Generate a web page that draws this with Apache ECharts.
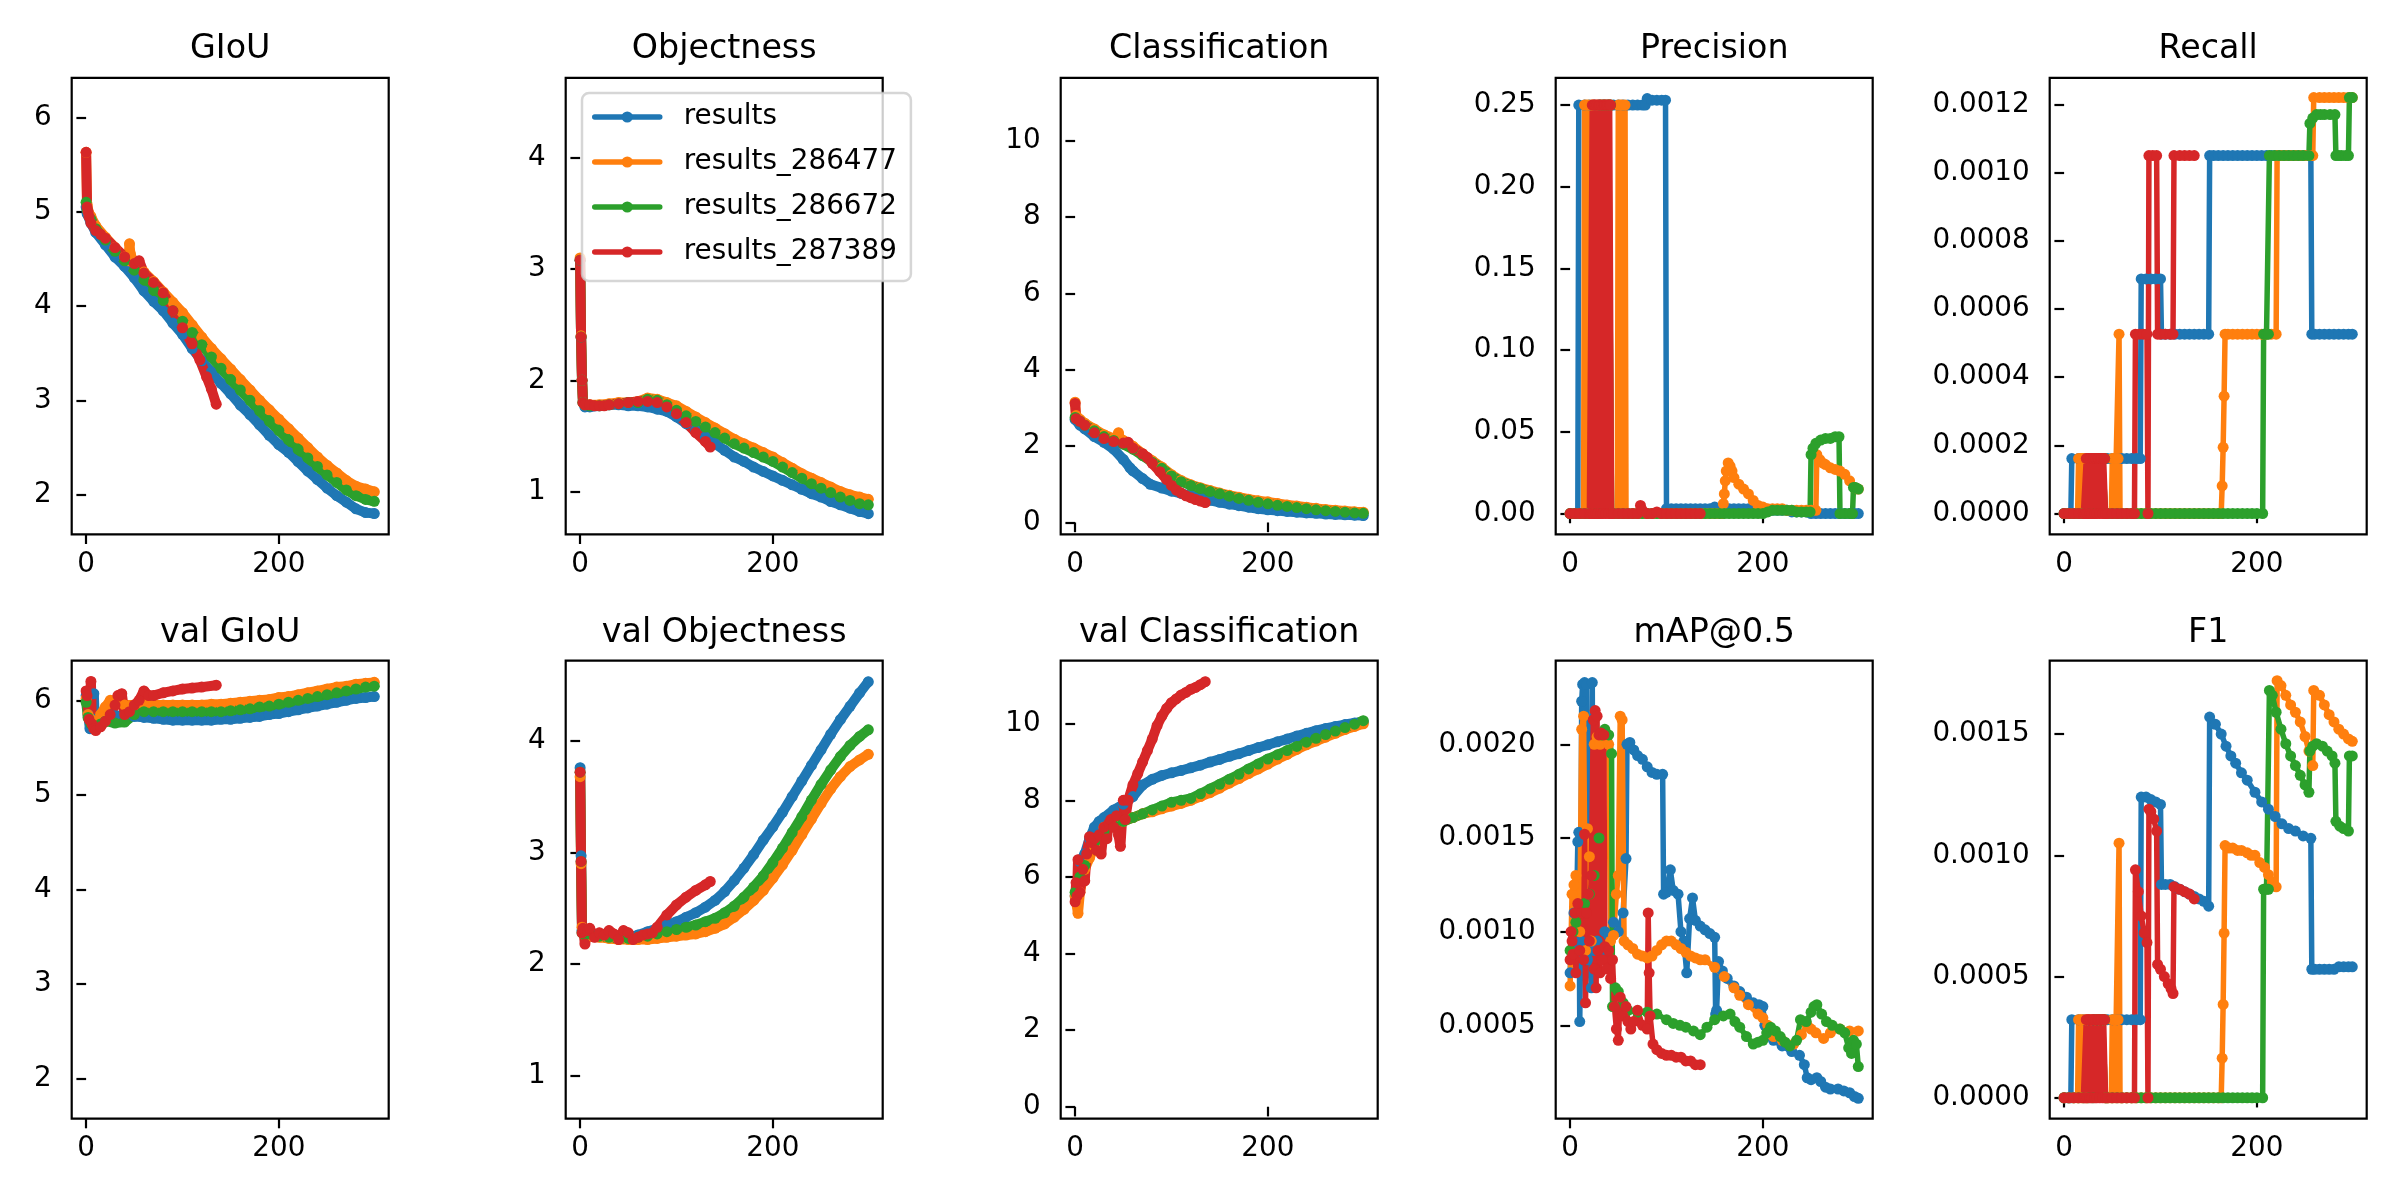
<!DOCTYPE html>
<html>
<head>
<meta charset="utf-8">
<script src="https://cdn.jsdelivr.net/npm/echarts@6/dist/echarts.min.js"></script>
<style>
  html, body { margin: 0; padding: 0; background: #fff; }
  #chart { width: 2400px; height: 1200px; }
</style>
</head>
<body>
<div id="chart"></div>
<script>
// runs, colours and panel titles
const runNames = ['results', 'results_286477', 'results_286672', 'results_287389'];
const runColors = ['#1f77b4', '#ff7f0e', '#2ca02c', '#d62728'];
const panelTitles = ['GIoU', 'Objectness', 'Classification', 'Precision', 'Recall',
  'val GIoU', 'val Objectness', 'val Classification', 'mAP@0.5', 'F1'];

// tick labels
const xTicks = [0, 200];
const giouTicks = [2, 3, 4, 5, 6];
const objTicks = [1, 2, 3, 4];
const clsTicks = [0, 2, 4, 6, 8, 10];
const precTicks = [0, 0.05, 0.10, 0.15, 0.20, 0.25];
const recTicks = [0, 0.0002, 0.0004, 0.0006, 0.0008, 0.0010, 0.0012];
const mapTicks = [0.0005, 0.0010, 0.0015, 0.0020];
const f1Ticks = [0, 0.0005, 0.0010, 0.0015];

// ---- GIoU [epoch, value]
const giou_results = [[0,5.05],[1,4.98],[5,4.88],[10,4.78],[20,4.65],[30,4.52],[40,4.42],[50,4.30],[60,4.16],[70,4.05],[80,3.95],[90,3.82],[100,3.70],[110,3.55],[120,3.42],[130,3.30],[140,3.18],[150,3.07],[160,2.95],[170,2.85],[180,2.74],[190,2.63],[200,2.53],[210,2.45],[220,2.35],[230,2.25],[240,2.16],[250,2.07],[260,1.99],[270,1.92],[280,1.85],[290,1.81],[299,1.80]];
const giou_286477 = [[0,5.63],[1,5.08],[3,4.98],[5,4.95],[10,4.85],[20,4.73],[30,4.62],[40,4.52],[44,4.48],[45,4.66],[46,4.55],[50,4.45],[60,4.36],[70,4.26],[80,4.15],[90,4.04],[100,3.93],[110,3.80],[120,3.67],[130,3.55],[140,3.44],[150,3.33],[160,3.22],[170,3.11],[180,3.00],[190,2.90],[200,2.80],[210,2.70],[220,2.60],[230,2.50],[240,2.40],[250,2.31],[260,2.23],[270,2.15],[280,2.09],[290,2.06],[299,2.03]];
const giou_286672 = [[0,5.10],[1,5.02],[5,4.92],[10,4.82],[20,4.70],[30,4.58],[40,4.48],[50,4.38],[60,4.28],[70,4.17],[80,4.06],[90,3.95],[100,3.84],[110,3.72],[120,3.59],[130,3.46],[140,3.34],[150,3.22],[160,3.11],[170,3.00],[180,2.89],[190,2.78],[200,2.68],[210,2.58],[220,2.48],[230,2.39],[240,2.30],[250,2.21],[260,2.13],[270,2.05],[280,1.99],[290,1.95],[299,1.93]];
const giou_287389 = [[0,5.63],[1,5.05],[2,5.00],[3,4.95],[5,4.88],[10,4.80],[15,4.76],[20,4.72],[30,4.62],[40,4.52],[50,4.45],[55,4.48],[60,4.35],[70,4.25],[80,4.14],[90,3.95],[100,3.77],[110,3.60],[118,3.43],[125,3.25],[130,3.12],[135,2.96]];

// ---- Objectness
const obj_results = [[0,3.08],[1,2.39],[2,2.00],[3,1.80],[5,1.76],[10,1.76],[20,1.77],[30,1.78],[40,1.78],[50,1.77],[60,1.77],[70,1.76],[80,1.74],[90,1.72],[100,1.67],[110,1.61],[120,1.55],[130,1.49],[140,1.43],[150,1.37],[160,1.31],[170,1.27],[180,1.22],[190,1.18],[200,1.14],[210,1.10],[220,1.06],[230,1.02],[240,0.98],[250,0.95],[260,0.91],[270,0.88],[280,0.85],[290,0.82],[299,0.80]];
const obj_286477 = [[0,3.10],[1,2.40],[2,2.00],[3,1.80],[5,1.78],[10,1.78],[20,1.78],[30,1.79],[40,1.80],[50,1.80],[60,1.81],[70,1.84],[80,1.83],[90,1.80],[100,1.77],[110,1.72],[120,1.67],[130,1.62],[140,1.57],[150,1.52],[160,1.47],[170,1.43],[180,1.39],[190,1.35],[200,1.31],[210,1.26],[220,1.21],[230,1.16],[240,1.12],[250,1.08],[260,1.04],[270,1.00],[280,0.97],[290,0.95],[299,0.93]];
const obj_286672 = [[0,3.08],[1,2.39],[2,2.00],[3,1.80],[5,1.78],[10,1.77],[20,1.77],[30,1.78],[40,1.79],[50,1.80],[60,1.80],[70,1.83],[80,1.82],[90,1.78],[100,1.73],[110,1.68],[120,1.63],[130,1.58],[140,1.53],[150,1.48],[160,1.43],[170,1.39],[180,1.35],[190,1.31],[200,1.27],[210,1.22],[220,1.17],[230,1.12],[240,1.07],[250,1.03],[260,0.99],[270,0.95],[280,0.92],[290,0.89],[299,0.88]];
const obj_287389 = [[0,3.08],[1,2.39],[2,2.00],[3,1.80],[5,1.78],[10,1.78],[15,1.77],[20,1.77],[25,1.77],[30,1.78],[40,1.79],[50,1.80],[60,1.81],[70,1.81],[80,1.80],[90,1.76],[100,1.70],[110,1.62],[120,1.53],[130,1.45],[135,1.40]];

// ---- Classification
const cls_results = [[0,2.70],[5,2.55],[10,2.45],[20,2.25],[30,2.10],[40,1.92],[50,1.65],[57,1.43],[60,1.35],[70,1.15],[78,1.00],[90,0.90],[100,0.82],[110,0.76],[120,0.70],[130,0.64],[140,0.58],[150,0.53],[160,0.48],[170,0.44],[180,0.40],[190,0.36],[200,0.33],[210,0.31],[220,0.29],[230,0.27],[240,0.25],[250,0.24],[260,0.22],[270,0.21],[280,0.20],[290,0.19],[299,0.18]];
const cls_286477 = [[0,3.15],[1,2.80],[5,2.70],[10,2.60],[20,2.45],[30,2.30],[40,2.20],[44,2.18],[45,2.35],[46,2.22],[50,2.15],[60,2.00],[70,1.80],[80,1.62],[90,1.45],[100,1.25],[110,1.10],[120,0.99],[130,0.91],[140,0.84],[150,0.77],[160,0.71],[170,0.66],[180,0.61],[190,0.57],[200,0.54],[210,0.50],[220,0.46],[230,0.43],[240,0.40],[250,0.37],[260,0.34],[270,0.32],[280,0.30],[290,0.28],[299,0.27]];
const cls_286672 = [[0,2.75],[5,2.65],[10,2.55],[20,2.40],[30,2.25],[40,2.15],[50,2.05],[60,1.92],[70,1.75],[80,1.58],[90,1.42],[100,1.22],[110,1.07],[120,0.97],[130,0.89],[140,0.81],[150,0.75],[160,0.69],[170,0.63],[180,0.58],[190,0.53],[200,0.49],[210,0.45],[220,0.42],[230,0.39],[240,0.36],[250,0.33],[260,0.31],[270,0.29],[280,0.27],[290,0.25],[299,0.24]];
const cls_287389 = [[0,3.12],[1,2.72],[5,2.65],[10,2.55],[20,2.35],[30,2.20],[40,2.12],[50,2.08],[55,2.10],[60,1.95],[70,1.80],[75,1.70],[80,1.55],[88,1.33],[95,1.12],[100,0.97],[105,0.85],[110,0.77],[115,0.70],[120,0.65],[125,0.60],[130,0.56],[135,0.52]];

// ---- Precision
const prec_results = [[0,0],[4,0],[8,0],[9,0.25],[15,0.25],[20,0.25],[25,0.25],[30,0.25],[35,0.25],[40,0.25],[45,0.25],[50,0.25],[55,0.25],[60,0.25],[65,0.25],[70,0.25],[75,0.25],[78,0.25],[80,0.254],[85,0.253],[90,0.253],[95,0.253],[99,0.253],[100,0.003],[105,0.003],[110,0.003],[115,0.003],[120,0.003],[125,0.003],[130,0.003],[135,0.003],[140,0.003],[145,0.003],[150,0.004],[155,0.003],[160,0.003],[165,0.003],[170,0.003],[175,0.003],[180,0.003],[185,0.003],[190,0.003],[195,0.003],[200,0.002],[205,0.002],[210,0.002],[215,0.002],[220,0.002],[225,0.002],[230,0.001],[235,0.001],[240,0.001],[245,0.001],[250,0],[255,0],[260,0],[265,0],[270,0],[275,0],[280,0],[285,0],[290,0],[295,0],[299,0]];
const prec_286477 = [[0,0],[5,0],[10,0],[14,0],[15,0.25],[17,0.25],[18,0],[19,0.25],[22,0.25],[23,0],[24,0.25],[28,0.25],[32,0.25],[36,0.25],[40,0.25],[42,0.25],[43,0],[46,0],[49,0],[50,0.25],[52,0.25],[53,0],[54,0.25],[57,0.25],[58,0],[60,0],[65,0],[70,0],[75,0],[80,0],[85,0],[90,0],[95,0],[100,0],[105,0],[110,0],[115,0],[120,0],[125,0],[130,0],[135,0],[140,0],[145,0],[150,0],[155,0],[158,0],[159,0.006],[160,0.012],[161,0.02],[162,0.026],[164,0.031],[166,0.029],[168,0.026],[170,0.022],[175,0.018],[180,0.015],[185,0.012],[190,0.008],[195,0.005],[200,0.004],[205,0.003],[210,0.003],[215,0.003],[220,0.003],[225,0.002],[230,0.002],[235,0.002],[240,0.002],[245,0.002],[250,0.002],[255,0.002],[256,0.036],[259,0.033],[262,0.031],[265,0.030],[270,0.028],[275,0.027],[280,0.026],[285,0.024],[290,0.020],[295,0.016],[299,0.015]];
const prec_286672 = [[0,0],[5,0],[10,0],[15,0],[20,0],[25,0],[30,0],[31,0.25],[34,0.25],[37,0.25],[40,0.25],[42,0.25],[43,0],[45,0],[50,0],[55,0],[60,0],[65,0],[70,0],[75,0],[80,0],[85,0],[90,0],[95,0],[100,0],[105,0],[110,0],[115,0],[120,0],[125,0],[130,0],[135,0],[140,0],[145,0],[150,0],[155,0],[160,0],[165,0],[170,0],[175,0],[180,0],[185,0],[190,0],[195,0],[200,0],[205,0.001],[210,0.002],[215,0.002],[220,0.002],[225,0.002],[230,0.002],[235,0.001],[240,0.001],[245,0.001],[249,0.001],[250,0.036],[252,0.040],[255,0.043],[260,0.045],[265,0.046],[270,0.046],[275,0.047],[279,0.047],[280,0],[285,0],[290,0],[293,0],[294,0.016],[296,0.016],[299,0.015]];
const prec_287389 = [[0,0],[5,0],[10,0],[15,0],[20,0],[22,0],[23,0.25],[24,0],[25,0.25],[26,0.25],[27,0],[28,0.25],[29,0],[30,0.25],[31,0.25],[32,0],[33,0.25],[34,0],[35,0.25],[36,0.25],[37,0],[38,0.25],[39,0.25],[40,0],[41,0.25],[42,0.25],[43,0],[45,0],[50,0],[55,0],[60,0],[65,0],[70,0],[73,0.005],[75,0.002],[80,0],[85,0],[90,0.001],[95,0],[100,0],[105,0],[110,0],[115,0],[120,0],[125,0],[130,0],[135,0]];

// ---- Recall
const rec_results = [[0,0],[4,0],[7,0],[8,0.000161],[15,0.000161],[20,0.000161],[25,0.000161],[30,0.000161],[35,0.000161],[40,0.000161],[45,0.000161],[50,0.000161],[55,0.000161],[60,0.000161],[65,0.000161],[70,0.000161],[75,0.000161],[79,0.000161],[80,0.000688],[85,0.000688],[90,0.000688],[95,0.000688],[100,0.000688],[101,0.000526],[105,0.000526],[110,0.000526],[115,0.000526],[120,0.000526],[125,0.000526],[130,0.000526],[135,0.000526],[140,0.000526],[145,0.000526],[150,0.000526],[151,0.00105],[155,0.00105],[160,0.00105],[165,0.00105],[170,0.00105],[175,0.00105],[180,0.00105],[185,0.00105],[190,0.00105],[195,0.00105],[200,0.00105],[205,0.00105],[210,0.00105],[215,0.00105],[220,0.00105],[225,0.00105],[230,0.00105],[235,0.00105],[240,0.00105],[245,0.00105],[250,0.00105],[256,0.00105],[257,0.000526],[260,0.000526],[265,0.000526],[270,0.000526],[275,0.000526],[280,0.000526],[285,0.000526],[290,0.000526],[295,0.000526],[299,0.000526]];
const rec_286477 = [[0,0],[5,0],[10,0],[14,0],[15,0.000161],[17,0.000161],[18,0],[19,0.000161],[22,0.000161],[23,0],[24,0.000161],[28,0.000161],[32,0.000161],[36,0.000161],[40,0.000161],[42,0.000161],[43,0],[46,0],[49,0],[50,0.000161],[52,0.000161],[53,0],[54,0.000161],[56,0.000161],[57,0.000526],[58,0],[60,0],[65,0],[70,0],[75,0],[80,0],[85,0],[90,0],[95,0],[100,0],[105,0],[110,0],[115,0],[120,0],[125,0],[130,0],[135,0],[140,0],[145,0],[150,0],[155,0],[160,0],[163,0],[164,0.0000811],[165,0.000194],[166,0.000344],[167,0.000526],[170,0.000526],[175,0.000526],[180,0.000526],[185,0.000526],[190,0.000526],[195,0.000526],[200,0.000526],[205,0.000526],[210,0.000526],[215,0.000526],[220,0.000526],[221,0.00105],[225,0.00105],[230,0.00105],[235,0.00105],[240,0.00105],[245,0.00105],[250,0.00105],[255,0.00105],[258,0.00105],[259,0.00122],[265,0.00122],[270,0.00122],[275,0.00122],[280,0.00122],[285,0.00122],[290,0.00122],[295,0.00122],[299,0.00122]];
const rec_286672 = [[0,0],[5,0],[10,0],[15,0],[20,0],[25,0],[30,0],[31,0.000161],[34,0.000161],[37,0.000161],[40,0.000161],[42,0.000161],[43,0],[45,0],[50,0],[55,0],[60,0],[65,0],[70,0],[75,0],[80,0],[85,0],[90,0],[95,0],[100,0],[105,0],[110,0],[115,0],[120,0],[125,0],[130,0],[135,0],[140,0],[145,0],[150,0],[155,0],[160,0],[165,0],[170,0],[175,0],[180,0],[185,0],[190,0],[195,0],[200,0],[206,0],[207,0.000526],[210,0.000526],[212,0.000526],[213,0.00105],[218,0.00105],[223,0.00105],[228,0.00105],[233,0.00105],[238,0.00105],[243,0.00105],[248,0.00105],[254,0.00105],[255,0.001144],[258,0.00116],[262,0.00117],[266,0.00117],[270,0.00117],[276,0.00117],[281,0.00117],[282,0.00105],[285,0.00105],[288,0.00105],[292,0.00105],[295,0.00105],[296,0.00122],[299,0.00122]];
const rec_287389 = [[0,0],[5,0],[10,0],[15,0],[20,0],[22,0],[23,0.000161],[24,0],[25,0.000161],[26,0.000161],[27,0],[28,0.000161],[29,0],[30,0.000161],[31,0.000161],[32,0],[33,0.000161],[34,0],[35,0.000161],[36,0.000161],[37,0],[38,0.000161],[39,0.000161],[40,0],[41,0.000161],[42,0.000161],[43,0],[45,0],[50,0],[55,0],[60,0],[65,0],[70,0],[73,0],[74,0.000526],[78,0.000526],[82,0.000526],[86,0.000526],[87,0],[88,0.00105],[92,0.00105],[96,0.00105],[97,0.000526],[100,0.000526],[105,0.000526],[110,0.000526],[113,0.000526],[114,0.00105],[120,0.00105],[125,0.00105],[130,0.00105],[135,0.00105]];

// ---- val GIoU
const vgiou_results = [[0,6.05],[2,5.85],[4,5.70],[6,5.70],[8,6.07],[9,5.80],[10,5.72],[15,5.80],[20,5.86],[25,5.85],[30,5.84],[40,5.84],[50,5.83],[60,5.82],[70,5.81],[80,5.80],[90,5.79],[100,5.79],[110,5.79],[120,5.79],[130,5.79],[140,5.80],[150,5.80],[160,5.81],[170,5.82],[180,5.83],[190,5.85],[200,5.86],[210,5.88],[220,5.90],[230,5.92],[240,5.94],[250,5.96],[260,5.98],[270,6.00],[280,6.02],[290,6.03],[299,6.04]];
const vgiou_286477 = [[0,6.02],[2,5.85],[5,5.80],[10,5.78],[15,5.85],[20,5.93],[25,6.00],[30,5.96],[40,5.95],[50,5.95],[60,5.95],[70,5.95],[80,5.95],[90,5.95],[100,5.95],[110,5.95],[120,5.95],[130,5.96],[140,5.96],[150,5.97],[160,5.98],[170,5.99],[180,6.00],[190,6.01],[200,6.03],[210,6.04],[220,6.06],[230,6.08],[240,6.10],[250,6.12],[260,6.14],[270,6.15],[280,6.17],[290,6.18],[299,6.19]];
const vgiou_286672 = [[0,5.98],[2,5.82],[5,5.75],[10,5.72],[15,5.75],[20,5.78],[30,5.76],[40,5.77],[50,5.85],[60,5.88],[70,5.88],[80,5.88],[90,5.88],[100,5.88],[110,5.88],[120,5.88],[130,5.88],[140,5.88],[150,5.89],[160,5.90],[170,5.91],[180,5.93],[190,5.94],[200,5.96],[210,5.98],[220,6.00],[230,6.02],[240,6.04],[250,6.06],[260,6.08],[270,6.10],[280,6.12],[290,6.14],[299,6.15]];
const vgiou_287389 = [[0,6.10],[1,6.05],[3,5.80],[5,6.20],[6,5.75],[8,5.70],[10,5.68],[15,5.72],[20,5.78],[25,5.85],[30,5.95],[33,6.05],[37,6.07],[40,5.85],[45,5.88],[50,5.95],[55,6.00],[60,6.10],[65,6.05],[70,6.05],[80,6.08],[90,6.10],[100,6.12],[110,6.13],[120,6.14],[135,6.16]];

// ---- val Objectness
const vobj_results = [[0,3.76],[1,2.97],[2,2.30],[5,2.27],[10,2.28],[20,2.25],[30,2.24],[40,2.23],[50,2.24],[60,2.26],[70,2.29],[80,2.32],[90,2.35],[100,2.38],[110,2.42],[120,2.46],[130,2.51],[140,2.57],[150,2.65],[160,2.75],[170,2.86],[180,2.98],[190,3.11],[200,3.23],[210,3.36],[220,3.50],[230,3.64],[240,3.78],[250,3.92],[260,4.06],[270,4.19],[280,4.31],[290,4.43],[299,4.53]];
const vobj_286477 = [[0,3.68],[1,2.90],[2,2.33],[5,2.26],[10,2.25],[20,2.24],[30,2.23],[40,2.22],[50,2.22],[60,2.22],[70,2.22],[80,2.23],[90,2.24],[100,2.25],[110,2.26],[120,2.27],[130,2.29],[140,2.32],[150,2.36],[160,2.42],[170,2.49],[180,2.57],[190,2.66],[200,2.77],[210,2.89],[220,3.02],[230,3.16],[240,3.30],[250,3.44],[260,3.57],[270,3.68],[280,3.77],[290,3.83],[299,3.88]];
const vobj_286672 = [[0,3.72],[1,2.92],[2,2.28],[5,2.26],[10,2.27],[20,2.25],[30,2.24],[40,2.23],[50,2.23],[60,2.24],[70,2.25],[80,2.27],[90,2.29],[100,2.31],[110,2.33],[120,2.35],[130,2.38],[140,2.41],[150,2.46],[160,2.52],[170,2.60],[180,2.69],[190,2.79],[200,2.91],[210,3.04],[220,3.18],[230,3.32],[240,3.47],[250,3.61],[260,3.74],[270,3.86],[280,3.96],[290,4.04],[299,4.10]];
const vobj_287389 = [[0,3.72],[1,2.92],[2,2.28],[3,2.32],[5,2.18],[8,2.30],[10,2.32],[15,2.24],[20,2.28],[25,2.26],[30,2.30],[35,2.27],[40,2.22],[45,2.30],[50,2.28],[55,2.22],[60,2.24],[65,2.26],[70,2.27],[75,2.28],[80,2.33],[90,2.44],[100,2.53],[110,2.60],[120,2.66],[130,2.71],[135,2.74]];

// ---- val Classification
const vcls_results = [[0,5.50],[2,5.60],[5,6.40],[10,6.60],[15,7.00],[20,7.30],[25,7.45],[30,7.55],[40,7.75],[50,7.90],[60,8.10],[70,8.40],[80,8.55],[90,8.65],[100,8.72],[110,8.78],[120,8.85],[130,8.92],[140,9.00],[150,9.07],[160,9.15],[170,9.22],[180,9.30],[190,9.38],[200,9.45],[210,9.53],[220,9.60],[230,9.68],[240,9.75],[250,9.82],[260,9.88],[270,9.93],[280,9.98],[290,10.02],[299,10.05]];
const vcls_286477 = [[0,5.50],[3,5.05],[5,5.60],[10,6.20],[15,6.50],[20,6.80],[30,7.30],[40,7.40],[50,7.45],[60,7.55],[70,7.65],[80,7.70],[90,7.78],[100,7.85],[110,7.92],[120,8.00],[130,8.10],[140,8.20],[150,8.32],[160,8.45],[170,8.57],[180,8.70],[190,8.82],[200,8.95],[210,9.08],[220,9.20],[230,9.33],[240,9.45],[250,9.55],[260,9.65],[270,9.75],[280,9.85],[290,9.93],[299,10.00]];
const vcls_286672 = [[0,5.60],[5,6.00],[10,6.30],[20,6.90],[30,7.20],[40,7.35],[50,7.45],[60,7.55],[70,7.65],[80,7.75],[90,7.85],[100,7.95],[110,8.00],[120,8.05],[130,8.17],[140,8.30],[150,8.42],[160,8.55],[170,8.68],[180,8.82],[190,8.95],[200,9.08],[210,9.19],[220,9.30],[230,9.41],[240,9.52],[250,9.62],[260,9.72],[270,9.81],[280,9.90],[290,9.99],[299,10.08]];
const vcls_287389 = [[0,5.35],[1,5.85],[2,5.50],[3,6.45],[5,5.60],[8,6.20],[10,5.90],[12,6.60],[15,7.05],[17,6.90],[20,7.00],[22,6.70],[25,7.10],[27,6.60],[30,7.30],[33,7.00],[35,7.40],[37,7.50],[40,7.30],[43,7.60],[45,7.10],[47,6.80],[50,8.00],[52,7.50],[55,8.00],[60,8.40],[65,8.70],[70,9.00],[75,9.30],[80,9.60],[85,9.95],[90,10.20],[95,10.40],[100,10.55],[105,10.65],[110,10.75],[115,10.82],[120,10.90],[125,10.95],[130,11.02],[135,11.10]];

// ---- mAP@0.5
const map_results = [[0,0.00078],[2,0.00100],[4,0.00110],[6,0.00090],[8,0.00148],[9,0.00153],[10,0.00052],[11,0.00095],[12,0.00223],[13,0.00232],[15,0.00233],[17,0.00232],[18,0.00085],[20,0.00090],[22,0.00070],[23,0.00233],[24,0.00090],[28,0.00095],[32,0.00090],[36,0.00100],[40,0.00098],[45,0.00105],[50,0.00100],[55,0.00110],[58,0.00139],[59,0.00200],[62,0.00201],[66,0.00197],[70,0.00194],[75,0.00192],[80,0.00188],[85,0.00185],[90,0.00184],[96,0.00184],[97,0.00120],[100,0.00121],[104,0.00133],[107,0.00122],[112,0.00120],[115,0.00100],[118,0.00095],[121,0.00078],[124,0.00107],[127,0.00118],[130,0.00106],[135,0.00103],[140,0.00101],[145,0.00099],[150,0.00097],[151,0.00056],[152,0.00058],[154,0.00084],[158,0.00079],[163,0.00075],[170,0.00071],[176,0.00068],[183,0.00065],[190,0.00062],[196,0.00061],[200,0.00060],[202,0.00050],[206,0.00045],[211,0.00042],[220,0.00039],[230,0.00036],[238,0.00034],[243,0.00029],[246,0.00022],[250,0.00021],[256,0.00022],[260,0.00020],[265,0.00017],[270,0.00016],[278,0.00016],[284,0.00015],[290,0.00014],[295,0.00012],[299,0.00011]];
const map_286477 = [[0,0.00071],[2,0.00120],[4,0.00125],[6,0.00130],[8,0.00110],[10,0.00100],[12,0.00208],[14,0.00215],[16,0.00090],[18,0.00155],[20,0.00140],[22,0.00095],[25,0.00200],[28,0.00204],[31,0.00200],[34,0.00205],[37,0.00203],[40,0.00200],[42,0.00095],[45,0.00098],[48,0.00120],[50,0.00130],[52,0.00215],[54,0.00213],[56,0.00095],[60,0.00093],[65,0.00091],[70,0.00088],[75,0.00087],[80,0.00086],[85,0.00087],[90,0.00090],[95,0.00093],[100,0.00095],[105,0.00095],[110,0.00093],[115,0.00091],[120,0.00089],[125,0.00087],[130,0.00086],[135,0.00085],[140,0.00085],[150,0.00081],[160,0.00076],[170,0.00070],[176,0.00066],[185,0.00061],[195,0.00056],[200,0.00054],[205,0.00050],[211,0.00044],[220,0.00042],[232,0.00040],[240,0.00045],[246,0.00050],[250,0.00048],[255,0.00046],[263,0.00043],[270,0.00046],[280,0.00048],[290,0.00047],[299,0.00047]];
const map_286672 = [[0,0.00090],[3,0.00100],[6,0.00105],[10,0.00110],[15,0.00115],[20,0.00120],[25,0.00130],[30,0.00150],[33,0.00205],[36,0.00208],[40,0.00205],[43,0.00195],[44,0.00060],[47,0.00070],[50,0.00068],[55,0.00062],[60,0.00058],[70,0.00057],[80,0.00057],[90,0.00056],[100,0.00053],[107,0.00051],[114,0.00050],[120,0.00049],[128,0.00047],[135,0.00045],[142,0.00049],[150,0.00053],[159,0.00055],[166,0.00056],[171,0.00052],[176,0.00049],[183,0.00044],[190,0.00040],[195,0.00041],[200,0.00042],[204,0.00046],[208,0.00049],[213,0.00047],[218,0.00044],[223,0.00041],[228,0.00039],[235,0.00042],[239,0.00053],[245,0.00052],[250,0.00057],[253,0.00060],[256,0.00061],[261,0.00056],[266,0.00052],[272,0.00050],[280,0.00048],[285,0.00046],[289,0.00038],[292,0.00035],[294,0.00042],[297,0.00040],[299,0.00028]];
const map_287389 = [[0,0.00085],[1,0.00100],[2,0.00095],[3,0.00088],[5,0.00110],[6,0.00078],[8,0.00115],[10,0.00090],[12,0.00110],[14,0.00085],[15,0.00152],[16,0.00062],[17,0.00110],[19,0.00120],[20,0.00095],[22,0.00130],[24,0.00213],[25,0.00080],[26,0.00218],[27,0.00070],[28,0.00215],[29,0.00090],[30,0.00205],[31,0.00078],[32,0.00206],[33,0.00085],[35,0.00205],[36,0.00092],[38,0.00080],[40,0.00090],[42,0.00075],[44,0.00085],[46,0.00060],[48,0.00048],[50,0.00042],[52,0.00065],[55,0.00055],[58,0.00060],[60,0.00052],[63,0.00048],[66,0.00052],[70,0.00058],[75,0.00050],[80,0.00048],[81,0.00110],[82,0.00078],[83,0.00055],[86,0.00040],[90,0.00037],[95,0.00035],[100,0.00034],[105,0.00034],[110,0.00033],[115,0.00033],[120,0.00031],[125,0.00031],[130,0.00029],[135,0.00029]];

// ---- F1
const f1_results = [[0,0],[4,0],[7,0],[8,0.000322],[15,0.000322],[20,0.000322],[25,0.000322],[30,0.000322],[35,0.000322],[40,0.000322],[45,0.000322],[50,0.000322],[55,0.000322],[60,0.000322],[65,0.000322],[70,0.000322],[75,0.000322],[79,0.000322],[80,0.00124],[85,0.00124],[90,0.00123],[95,0.00122],[100,0.00121],[101,0.00088],[105,0.00088],[110,0.00088],[115,0.00087],[120,0.00086],[125,0.00085],[130,0.00084],[135,0.00083],[140,0.00082],[145,0.00081],[150,0.00079],[151,0.00157],[157,0.00154],[163,0.00150],[168,0.00145],[173,0.00141],[178,0.00138],[184,0.00134],[190,0.00131],[198,0.00126],[205,0.00122],[212,0.00119],[219,0.00116],[226,0.00113],[233,0.00111],[240,0.00110],[248,0.00108],[256,0.00107],[257,0.00053],[260,0.00053],[265,0.00053],[270,0.00053],[275,0.00053],[280,0.00053],[285,0.00054],[290,0.00054],[295,0.00054],[299,0.00054]];
const f1_286477 = [[0,0],[5,0],[10,0],[14,0],[15,0.000322],[17,0.000322],[18,0],[19,0.000322],[22,0.000322],[23,0],[24,0.000322],[28,0.000322],[32,0.000322],[36,0.000322],[40,0.000322],[42,0.000322],[43,0],[46,0],[49,0],[50,0.000322],[52,0.000322],[53,0],[54,0.000322],[56,0.000322],[57,0.00105],[58,0],[60,0],[65,0],[70,0],[75,0],[80,0],[85,0],[90,0],[95,0],[100,0],[105,0],[110,0],[115,0],[120,0],[125,0],[130,0],[135,0],[140,0],[145,0],[150,0],[155,0],[160,0],[163,0],[164,0.000163],[165,0.000385],[166,0.000679],[167,0.00104],[171,0.00103],[175,0.00103],[180,0.00102],[184,0.00102],[190,0.00101],[194,0.00100],[198,0.00100],[203,0.00097],[208,0.00095],[212,0.00092],[216,0.00089],[220,0.00087],[221,0.00172],[225,0.00170],[230,0.00166],[235,0.00162],[240,0.00159],[245,0.00155],[250,0.00149],[254,0.00143],[258,0.00137],[259,0.00168],[265,0.00166],[270,0.00162],[275,0.00158],[280,0.00155],[285,0.00152],[290,0.00150],[295,0.00148],[299,0.00147]];
const f1_286672 = [[0,0],[5,0],[10,0],[15,0],[20,0],[25,0],[30,0],[31,0.000322],[34,0.000322],[37,0.000322],[40,0.000322],[42,0.000322],[43,0],[45,0],[50,0],[55,0],[60,0],[65,0],[70,0],[75,0],[80,0],[85,0],[90,0],[95,0],[100,0],[105,0],[110,0],[115,0],[120,0],[125,0],[130,0],[135,0],[140,0],[145,0],[150,0],[155,0],[160,0],[165,0],[170,0],[175,0],[180,0],[185,0],[190,0],[195,0],[200,0],[206,0],[207,0.00086],[210,0.00086],[212,0.00086],[213,0.00168],[216,0.00166],[220,0.00159],[225,0.00152],[230,0.00146],[235,0.00141],[240,0.00137],[245,0.00133],[250,0.00129],[254,0.00126],[255,0.00143],[258,0.00145],[262,0.00146],[268,0.00145],[273,0.00143],[278,0.00141],[281,0.00138],[282,0.00114],[286,0.00112],[290,0.00111],[295,0.00110],[296,0.00141],[299,0.00141]];
const f1_287389 = [[0,0],[5,0],[10,0],[15,0],[20,0],[22,0],[23,0.000322],[24,0],[25,0.000322],[26,0.000322],[27,0],[28,0.000322],[29,0],[30,0.000322],[31,0.000322],[32,0],[33,0.000322],[34,0],[35,0.000322],[36,0.000322],[37,0],[38,0.000322],[39,0.000322],[40,0],[41,0.000322],[42,0.000322],[43,0],[45,0],[50,0],[55,0],[60,0],[65,0],[70,0],[73,0],[74,0.00094],[77,0.00085],[80,0.00075],[83,0.00068],[86,0.00064],[87,0],[88,0.00119],[90,0.00118],[93,0.00115],[96,0.00110],[97,0.00055],[100,0.00053],[104,0.00050],[108,0.00047],[111,0.00045],[113,0.00043],[114,0.00087],[120,0.00086],[125,0.00085],[130,0.00084],[135,0.00082]];

// ---- panel table (row-major, 5 columns); lw = line width for the panel
const panels = [
  { runs: [giou_results, giou_286477, giou_286672, giou_287389], min: 1.58, max: 6.42, ticks: giouTicks, dec: 0, lw: 10 },
  { runs: [obj_results, obj_286477, obj_286672, obj_287389], min: 0.615, max: 4.72, ticks: objTicks, dec: 0, lw: 10 },
  { runs: [cls_results, cls_286477, cls_286672, cls_287389], min: -0.31, max: 11.65, ticks: clsTicks, dec: 0, lw: 10 },
  { runs: [prec_results, prec_286477, prec_286672, prec_287389], min: -0.0127, max: 0.2667, ticks: precTicks, dec: 2, lw: 5.5 },
  { runs: [rec_results, rec_286477, rec_286672, rec_287389], min: -0.000061, max: 0.001278, ticks: recTicks, dec: 4, lw: 5.5 },
  { runs: [vgiou_results, vgiou_286477, vgiou_286672, vgiou_287389], min: 1.58, max: 6.42, ticks: giouTicks, dec: 0, lw: 10 },
  { runs: [vobj_results, vobj_286477, vobj_286672, vobj_287389], min: 0.615, max: 4.72, ticks: objTicks, dec: 0, lw: 10 },
  { runs: [vcls_results, vcls_286477, vcls_286672, vcls_287389], min: -0.31, max: 11.65, ticks: clsTicks, dec: 0, lw: 10 },
  { runs: [map_results, map_286477, map_286672, map_287389], min: 0.000002, max: 0.002447, ticks: mapTicks, dec: 4, lw: 5.5 },
  { runs: [f1_results, f1_286477, f1_286672, f1_287389], min: -0.000086, max: 0.001803, ticks: f1Ticks, dec: 4, lw: 5.5 }
];

const FONT = 'DejaVu Sans';
const colLeft = [71.7, 565.7, 1060.7, 1555.7, 2049.7];
const rowTop = [77.8, 660.6];
const rowH = [456.5, 458];
const plotW = 317;
const titleY = [49, 633];

const grids = [], xAxes = [], yAxes = [], series = [], titles = [];
panels.forEach((p, i) => {
  const r = Math.floor(i / 5), c = i % 5;
  grids.push({
    left: colLeft[c], top: rowTop[r], width: plotW, height: rowH[r],
    show: true, borderColor: '#000', borderWidth: 2.2, backgroundColor: '#fff',
    outerBoundsMode: 'none'
  });
  xAxes.push({
    type: 'value', gridIndex: i, min: -14.95, max: 313.95,
    axisLine: { show: false }, splitLine: { show: false },
    axisTick: { show: true, customValues: xTicks, length: 9.7, lineStyle: { color: '#000', width: 2.2 } },
    axisLabel: { customValues: xTicks, fontSize: 27.8, fontFamily: FONT, color: '#000', margin: 16 }
  });
  yAxes.push({
    type: 'value', gridIndex: i, min: p.min, max: p.max,
    axisLine: { show: false }, splitLine: { show: false },
    axisTick: { show: true, customValues: p.ticks, length: 9.7, lineStyle: { color: '#000', width: 2.2 } },
    axisLabel: { customValues: p.ticks, fontSize: 27.8, fontFamily: FONT, color: '#000', margin: 20,
      formatter: v => Number(v).toFixed(p.dec) }
  });
  p.runs.forEach((d, k) => {
    series.push({
      type: 'line', name: runNames[k], xAxisIndex: i, yAxisIndex: i, data: d,
      color: runColors[k], symbol: 'circle', symbolSize: 11, showSymbol: true,
      lineStyle: { width: p.lw, color: runColors[k], cap: 'round', join: 'round' },
      itemStyle: { color: runColors[k] },
      clip: true, silent: true, animation: false,
      emphasis: { disabled: true }
    });
  });
  titles.push({
    type: 'text', x: colLeft[c] + plotW / 2, y: titleY[r], silent: true,
    style: { text: panelTitles[i], fontSize: 33.3, fontFamily: FONT, fill: '#000',
      align: 'center', verticalAlign: 'middle' }
  });
});

const chart = echarts.init(document.getElementById('chart'), null, { renderer: 'canvas' });
chart.setOption({
  backgroundColor: '#fff',
  animation: false,
  grid: grids,
  xAxis: xAxes,
  yAxis: yAxes,
  series: series,
  graphic: titles,
  legend: {
    data: runNames, orient: 'vertical', left: 582, top: 93,
    itemWidth: 65, itemHeight: 14, itemGap: 17, selectedMode: false,
    lineStyle: { width: 5.5 },
    backgroundColor: 'rgba(255,255,255,0.8)', borderColor: 'rgba(204,204,204,0.8)',
    borderWidth: 2.5, borderRadius: 7, padding: [10, 14, 15, 10],
    textStyle: { fontSize: 27.8, fontFamily: FONT, color: '#000', lineHeight: 28, padding: [0, 0, 0, 19] }
  }
});
</script>
</body>
</html>
